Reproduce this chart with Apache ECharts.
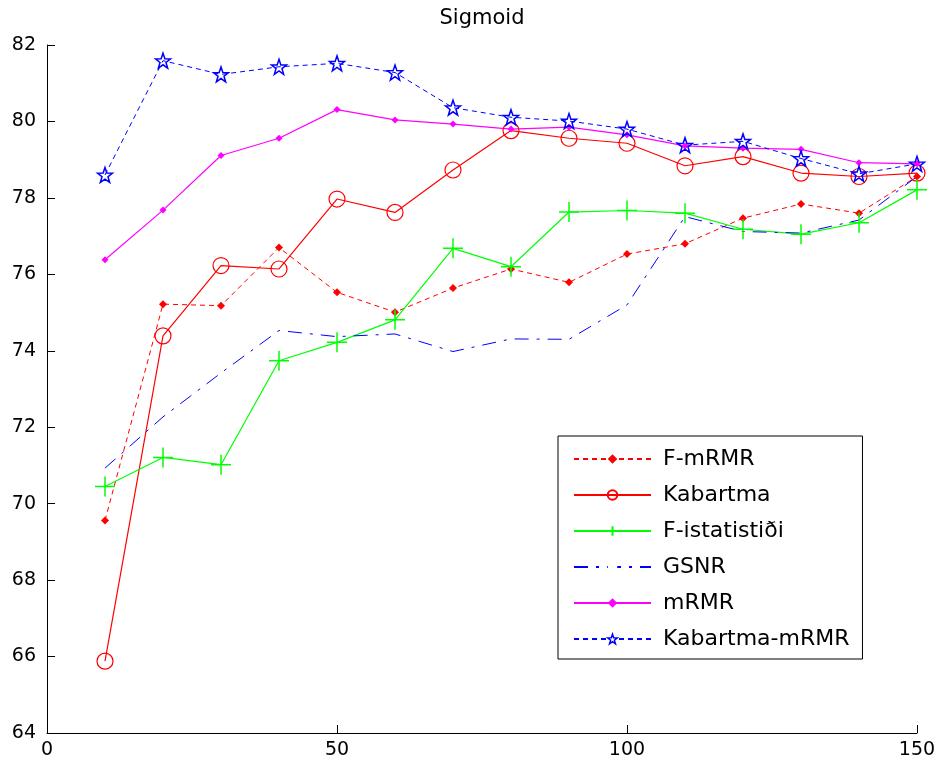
<!DOCTYPE html>
<html>
<head>
<meta charset="utf-8">
<script src="https://cdn.jsdelivr.net/npm/echarts@6/dist/echarts.min.js"></script>
<style>html,body{margin:0;padding:0;background:#fff}#c{width:942px;height:771px}</style>
</head>
<body>
<div id="c"></div>
<script>
const xValues = [10,20,30,40,50,60,70,80,90,100,110,120,130,140,150];
const fMRMR = [69.56,75.22,75.18,76.70,75.53,75.01,75.64,76.14,75.79,76.53,76.80,77.47,77.84,77.60,78.56];
const kabartma = [65.88,74.39,76.23,76.14,77.97,77.62,78.73,79.76,79.56,79.43,78.84,79.08,78.65,78.56,78.65];
const fIstatistigi = [70.45,71.21,71.02,73.74,74.22,74.81,76.68,76.20,77.63,77.67,77.60,77.18,77.05,77.35,78.21];
const gsnr = [70.93,72.27,73.42,74.53,74.37,74.44,73.98,74.31,74.30,75.20,77.51,77.12,77.08,77.42,78.56];
const mRMR = [76.38,77.68,79.11,79.56,80.31,80.04,79.93,79.80,79.85,79.65,79.36,79.30,79.27,78.92,78.89];
const kabartmaMRMR = [78.60,81.59,81.23,81.43,81.52,81.28,80.36,80.11,80.01,79.80,79.38,79.48,79.03,78.63,78.89];
const seriesNames = ['F-mRMR','Kabartma','F-istatistiði','GSNR','mRMR','Kabartma-mRMR'];
const xTicks = [0,50,100,150];
const yTicks = [64,66,68,70,72,74,76,78,80,82];

const pairs = arr => xValues.map((x,i)=>[x,arr[i]]);
const FONT = '"DejaVu Sans", sans-serif';
const plusPath = 'path://M0,-10L0,10M-10,0L10,0';
const starPath = 'path://M0,-10L2.35,-3.24L9.51,-3.09L3.8,1.24L5.88,8.09L0,4L-5.88,8.09L-3.8,1.24L-9.51,-3.09L-2.35,-3.24Z';

const legendData = seriesNames.map(n => n === 'Kabartma-mRMR'
  ? {name:n, itemStyle:{color:'#ffffff', borderColor:'#0000ff', borderWidth:1.5}}
  : {name:n});

const chart = echarts.init(document.getElementById('c'));
chart.setOption({
  backgroundColor: '#fff',
  animation: false,
  title: {text:'Sigmoid', left:477, textAlign:'center', top:3, textStyle:{fontFamily:FONT, fontSize:21, fontWeight:'normal', color:'#000'}},
  grid: {left:47, right:25, top:45, bottom:38},
  xAxis: {type:'value', min:0, max:150, interval:50,
    axisLine:{onZero:false, lineStyle:{color:'#000', width:1}},
    axisTick:{inside:true, length:8, lineStyle:{color:'#000'}},
    axisLabel:{fontFamily:FONT, fontSize:19, color:'#000', margin:8, formatter:v=>xTicks.includes(v)?String(v):''},
    splitLine:{show:false}},
  yAxis: {type:'value', min:64, max:82, interval:2,
    axisLine:{show:true, onZero:false, lineStyle:{color:'#000', width:1}},
    axisTick:{show:true, inside:true, length:8, lineStyle:{color:'#000'}},
    axisLabel:{fontFamily:FONT, fontSize:19, color:'#000', margin:11, formatter:v=>yTicks.includes(v)?String(v):''},
    splitLine:{show:false}},
  legend: {orient:'vertical', left:558, top:436, backgroundColor:'#fff', borderColor:'#000', borderWidth:1,
    padding:[11,13,8,15], itemWidth:77, itemHeight:12, itemGap:12,
    textStyle:{fontFamily:FONT, fontSize:22, color:'#000', lineHeight:24, padding:[0,0,0,7]},
    data: legendData},
  series: [
    {name:seriesNames[0], type:'line', data:pairs(fMRMR), symbol:'diamond', symbolSize:8,
      lineStyle:{color:'#ff0000', width:1, type:[5,4]}, itemStyle:{color:'#ff0000'}},
    {name:seriesNames[1], type:'line', data:pairs(kabartma), symbol:'circle', symbolSize:16,
      lineStyle:{color:'#ff0000', width:1.2}, itemStyle:{color:'rgba(0,0,0,0)', borderColor:'#ff0000', borderWidth:1.2}},
    {name:seriesNames[2], type:'line', data:pairs(fIstatistigi), symbol:plusPath, symbolSize:20,
      lineStyle:{color:'#00ff00', width:1.2}, itemStyle:{color:'rgba(0,0,0,0)', borderColor:'#00ff00', borderWidth:1.5}},
    {name:seriesNames[3], type:'line', data:pairs(gsnr), showSymbol:false,
      lineStyle:{color:'#0000ff', width:1, type:[14,8,3,8]}, itemStyle:{color:'rgba(0,0,0,0)', borderColor:'rgba(0,0,0,0)'}},
    {name:seriesNames[4], type:'line', data:pairs(mRMR), symbol:'diamond', symbolSize:7,
      lineStyle:{color:'#ff00ff', width:1.2}, itemStyle:{color:'#ff00ff'}},
    {name:seriesNames[5], type:'line', data:pairs(kabartmaMRMR), symbol:starPath, symbolSize:15,
      lineStyle:{color:'#0000ff', width:1, type:[5,4]}, itemStyle:{color:'rgba(0,0,0,0)', borderColor:'#0000ff', borderWidth:1.5}}
  ]
});
</script>
</body>
</html>
